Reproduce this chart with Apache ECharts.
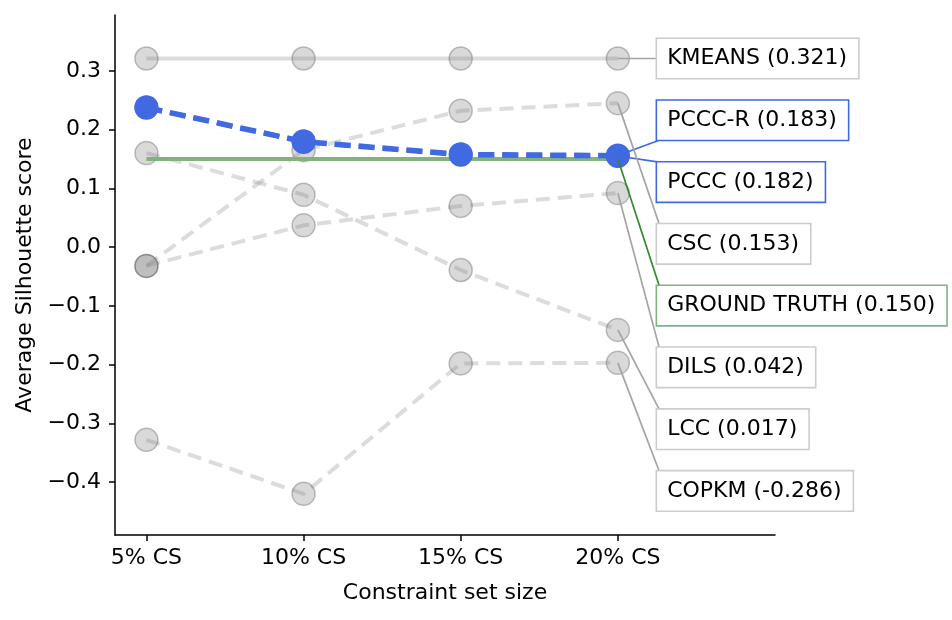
<!DOCTYPE html>
<html>
<head>
<meta charset="utf-8">
<script src="https://cdn.jsdelivr.net/npm/echarts@6/dist/echarts.min.js"></script>
<style>html,body{margin:0;padding:0;background:#fff}#chart{width:952px;height:620px}</style>
</head>
<body>
<div id="chart"></div>
<script>
const categories = ['5% CS', '10% CS', '15% CS', '20% CS'];
const methods = ['KMEANS', 'PCCC-R', 'PCCC', 'CSC', 'GROUND TRUTH', 'DILS', 'LCC', 'COPKM'];
const averages = [0.321, 0.183, 0.182, 0.153, 0.150, 0.042, 0.017, -0.286];
const kmeans = [0.321, 0.321, 0.321, 0.321];
const pcccR = [0.238, 0.180, 0.158, 0.156];
const pccc = [0.237, 0.179, 0.157, 0.155];
const csc = [-0.032, 0.165, 0.232, 0.245];
const groundTruth = [0.150, 0.150, 0.150, 0.150];
const dils = [-0.032, 0.037, 0.070, 0.092];
const lcc = [0.160, 0.089, -0.039, -0.141];
const copkm = [-0.328, -0.420, -0.198, -0.197];
const yTicks = [-0.4, -0.3, -0.2, -0.1, 0.0, 0.1, 0.2, 0.3];
const xTicks = [0, 1, 2, 3];

const seriesValues = [kmeans, pcccR, pccc, csc, groundTruth, dils, lcc, copkm];
const FONT = '"DejaVu Sans", sans-serif';
const FS = 22;
const GRAY_FILL = 'rgba(128,128,128,0.3)';
const GRAY_EDGE = 'rgba(80,80,80,0.35)';
const GRAY_LINE = 'rgba(128,128,128,0.28)';
const BLUE = '#4169E1';
const GREEN_LINE = '#7fb47f';
const GREEN_DARK = '#2e8b2e';

function pts(arr) { return arr.map((v, i) => [i, v]); }

// label anchor rows: evenly spaced from top value to bottom
const labelTop = 0.321, labelBottom = -0.415;
const labelRows = methods.map((m, i) => labelTop + (labelBottom - labelTop) * i / (methods.length - 1));

const styleOf = {
  'KMEANS': {box: '#cccccc', lead: '#a4a4a4'},
  'PCCC-R': {box: BLUE, lead: BLUE},
  'PCCC': {box: BLUE, lead: BLUE},
  'CSC': {box: '#cccccc', lead: '#a4a4a4'},
  'GROUND TRUTH': {box: GREEN_LINE, lead: GREEN_DARK},
  'DILS': {box: '#cccccc', lead: '#a4a4a4'},
  'LCC': {box: '#cccccc', lead: '#a4a4a4'},
  'COPKM': {box: '#cccccc', lead: '#a4a4a4'}
};

function grayDashed(name, arr) {
  return {
    type: 'line', name, data: pts(arr), z: 2,
    symbol: 'circle', symbolSize: 23,
    itemStyle: {color: GRAY_FILL, borderColor: GRAY_EDGE, borderWidth: 1.5},
    lineStyle: {color: GRAY_LINE, width: 4, type: [14, 8]},
    emphasis: {disabled: true}, animation: false
  };
}

const series = [
  {
    type: 'line', name: 'KMEANS', data: pts(kmeans), z: 2,
    symbol: 'circle', symbolSize: 23,
    itemStyle: {color: GRAY_FILL, borderColor: GRAY_EDGE, borderWidth: 1.5},
    lineStyle: {color: GRAY_LINE, width: 4},
    emphasis: {disabled: true}, animation: false
  },
  grayDashed('CSC', csc),
  grayDashed('DILS', dils),
  grayDashed('LCC', lcc),
  grayDashed('COPKM', copkm),
  {
    type: 'line', name: 'GROUND TRUTH', data: pts(groundTruth), z: 3,
    symbol: 'none', lineStyle: {color: GREEN_LINE, width: 4},
    emphasis: {disabled: true}, animation: false
  },
  {
    type: 'line', name: 'PCCC', data: pts(pccc), z: 4,
    symbol: 'circle', symbolSize: 24,
    itemStyle: {color: BLUE},
    lineStyle: {color: BLUE, width: 5, type: [16, 8]},
    emphasis: {disabled: true}, animation: false
  },
  {
    type: 'line', name: 'PCCC-R', data: pts(pcccR), z: 4,
    symbol: 'circle', symbolSize: 24,
    itemStyle: {color: BLUE},
    lineStyle: {color: BLUE, width: 5, type: [16, 8]},
    emphasis: {disabled: true}, animation: false
  },
  {
    type: 'custom', name: 'labels', z: 10, clip: false, animation: false,
    data: methods.map((m, i) => [3, seriesValues[i][3], labelRows[i], i]),
    renderItem: function (params, api) {
      const idx = api.value(3);
      const name = methods[idx];
      const st = styleOf[name];
      const p = api.coord([api.value(0), api.value(1)]);
      const l = api.coord([3.25, api.value(2)]);
      const half = 20;
      const ty = Math.max(l[1] - half, Math.min(l[1] + half, p[1]));
      const txt = name + ' (' + averages[idx].toFixed(3) + ')';
      return {
        type: 'group',
        children: [
          {type: 'line', z2: 1, shape: {x1: p[0], y1: p[1], x2: l[0] + 2, y2: ty},
           style: {stroke: st.lead, lineWidth: 1.7}},
          {type: 'text', z2: 5, x: l[0], y: l[1],
           style: {text: txt, font: FS + 'px ' + FONT, fill: '#000', align: 'left', verticalAlign: 'middle',
                   backgroundColor: '#fff', borderColor: st.box, borderWidth: 1.6, padding: [9, 11, 8, 10]}}
        ]
      };
    }
  }
];

const chart = echarts.init(document.getElementById('chart'), null, {renderer: 'canvas'});
chart.setOption({
  animation: false,
  backgroundColor: '#fff',
  grid: {left: 115, right: 177, top: 15, bottom: 85, containLabel: false},
  xAxis: {
    type: 'value', min: -0.2, max: 4.0,
    name: 'Constraint set size', nameLocation: 'middle', nameGap: 47,
    nameTextStyle: {fontFamily: FONT, fontSize: FS, color: '#000'},
    axisLine: {show: true, onZero: false, lineStyle: {color: '#000', width: 1.5}},
    axisTick: {show: true, length: 6, lineStyle: {color: '#000', width: 1.5}, customValues: xTicks},
    axisLabel: {fontFamily: FONT, fontSize: FS, color: '#000', margin: 12, customValues: xTicks,
                formatter: v => categories[Math.round(v)]},
    splitLine: {show: false}
  },
  yAxis: {
    type: 'value', min: -0.49, max: 0.395,
    name: 'Average Silhouette score', nameLocation: 'middle', nameGap: 73,
    nameTextStyle: {fontFamily: FONT, fontSize: FS, color: '#000'},
    axisLine: {show: true, onZero: false, lineStyle: {color: '#000', width: 1.5}},
    axisTick: {show: true, length: 6, lineStyle: {color: '#000', width: 1.5}, customValues: yTicks},
    axisLabel: {fontFamily: FONT, fontSize: FS, color: '#000', margin: 14, customValues: yTicks,
                formatter: v => (v < -1e-9 ? '\u2212' : '') + Math.abs(v).toFixed(1)},
    splitLine: {show: false}
  },
  series: series
});
</script>
</body>
</html>
